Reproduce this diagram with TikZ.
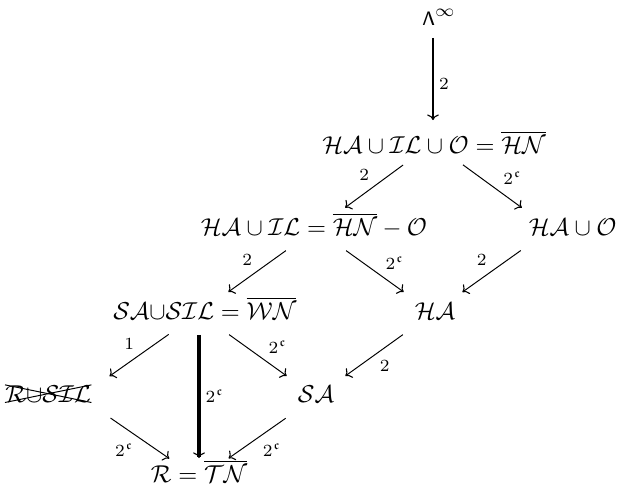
\documentclass[tikz,border=0pt]{standalone}
\usepackage{amsmath,amssymb}
\usetikzlibrary{arrows.meta}

\begin{document}
\begin{tikzpicture}[x=0.41pt, y=-0.41pt,
  >={To[length=2.3pt, width=4.8pt, line width=0.45pt]},
  set/.style={anchor=base},
  arr/.style={->, shorten <=15.2pt, shorten >=14.8pt},
  bigarr/.style={->, line width=1.35pt},
  lbl/.style={font=\scriptsize, inner sep=2pt},
]
  \useasboundingbox (0,0) rectangle (619,493);
  % grid points the arrows run between
  \coordinate (g-lam) at (433,25);
  \coordinate (g-top) at (433,143);
  \coordinate (g-hil) at (316,229);
  \coordinate (g-hao) at (551,229);
  \coordinate (g-sasil) at (199,313);
  \coordinate (g-ha) at (433,313);
  \coordinate (g-rsil) at (80,397);
  \coordinate (g-sa) at (316,397);
  \coordinate (g-tn) at (199,479);
  % the classes
  \node[set] (lam) at (439,25) {${\text{\footnotesize$\mathsf{\Lambda}$}}^{\infty}$};
  \node[set] (top) at (434,153) {$\mathcal{HA}\cup\mathcal{IL}\cup\mathcal{O}=\overline{\mathcal{HN}}$};
  \node[set] (hil) at (314,235) {$\mathcal{HA}\cup\mathcal{IL}=\overline{\mathcal{HN}}-\mathcal{O}$};
  \node[set, anchor=base east] (hao) at (625,235) {$\mathcal{HA}\cup\mathcal{O}$};
  \node[set, anchor=base east] (sasil) at (305,319) {$\mathcal{SA}{\cup}\mathcal{SIL}=\overline{\mathcal{WN}}$};
  \node[set] (ha) at (435,319) {$\mathcal{HA}$};
  \node[set, anchor=base west, inner sep=0pt] (rsil) at (5,402) {$\mathcal{R}{\cup}\mathcal{SIL}$};
  \node[set] (sa) at (316,402) {$\mathcal{SA}$};
  \node[set] (tn) at (199,482) {$\mathcal{R}=\overline{\mathcal{TN}}$};
  % crossed out
  \draw (rsil.north west) -- (rsil.south east);
  \draw (rsil.south west) -- (rsil.north east);
  % arrows
  \draw[bigarr, line width=1.1pt, shorten <=5.3pt, shorten >=9.4pt] (g-lam) -- node[lbl, right] {$2$} (g-top);
  \draw[arr] (g-top) -- node[lbl, above left] {$2$} (g-hil);
  \draw[arr] (g-top) -- node[lbl, pos=0.55, above right] {$2^{\mathfrak{c}}$} (g-hao);
  \draw[arr] (g-hil) -- node[lbl, above left] {$2$} (g-sasil);
  \draw[arr] (g-hil) -- node[lbl, pos=0.55, above right] {$2^{\mathfrak{c}}$} (g-ha);
  \draw[arr] (g-hao) -- node[lbl, above left] {$2$} (g-ha);
  \draw[arr] (g-sasil) -- node[lbl, above left] {$1$} (g-rsil);
  \draw[bigarr, shorten <=9pt, shorten >=8.6pt] (g-sasil) -- node[lbl, right] {$2^{\mathfrak{c}}$} (g-tn);
  \draw[arr] (g-sasil) -- node[lbl, pos=0.55, above right] {$2^{\mathfrak{c}}$} (g-sa);
  \draw[arr] (g-ha) -- node[lbl, below right] {$2$} (g-sa);
  \draw[arr] (g-rsil) -- node[lbl, below left] {$2^{\mathfrak{c}}$} (g-tn);
  \draw[arr] (g-sa) -- node[lbl, below right] {$2^{\mathfrak{c}}$} (g-tn);
\end{tikzpicture}
\end{document}
